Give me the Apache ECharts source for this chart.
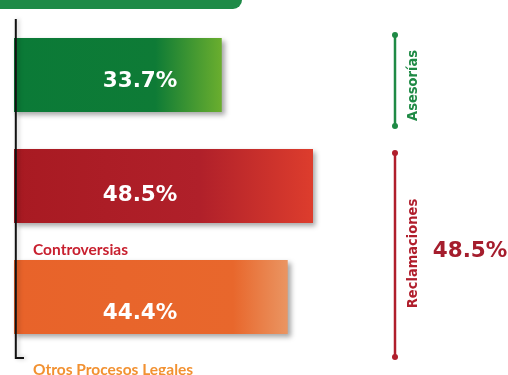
<!DOCTYPE html>
<html>
<head>
<meta charset="utf-8">
<script src="https://cdn.jsdelivr.net/npm/echarts@6/dist/echarts.min.js"></script>
<style>
  html, body { margin: 0; padding: 0; background: #ffffff; }
  #chart { width: 508px; height: 375px; }
</style>
</head>
<body>
<div id="chart"></div>
<script>
// Distribution of legal services (percent)
const categories = ['Asesorías', 'Controversias', 'Otros Procesos Legales'];
const values = [33.7, 48.5, 44.4];
const captions = [null, 'Controversias', 'Otros Procesos Legales'];
const groupNames = ['Asesorías', 'Reclamaciones'];
const groupValue = '48.5%';

// Styling per bar
const barColors = [
  { dark: '#0b7a37', mid: '#0e7b36', light: '#6aae2e', stop: 0.68 },
  { dark: '#a81a22', mid: '#b0202a', light: '#dd3d2d', stop: 0.62 },
  { dark: '#e8632a', mid: '#e8672c', light: '#ea9562', stop: 0.8 }
];
const captionColors = ['#1e8a47', '#c8202f', '#f29131'];
const labelDy = [43, 46, 53];
const captionDy = [0, 63.5, 72.5];

const chart = echarts.init(document.getElementById('chart'), null, { renderer: 'canvas' });

const barData = values.map((v, i) => ({
  value: v,
  itemStyle: {
    color: new echarts.graphic.LinearGradient(0, 0, 1, 0, [
      { offset: 0, color: barColors[i].dark },
      { offset: barColors[i].stop, color: barColors[i].mid },
      { offset: 1, color: barColors[i].light }
    ])
  },
  label: { position: [126, labelDy[i]] }
}));

chart.setOption({
  animation: false,
  grid: { left: 14, top: 19.5, width: 493.2, height: 333 },
  xAxis: {
    type: 'value', min: 0, max: 80,
    show: false
  },
  yAxis: {
    type: 'category', data: categories, inverse: true,
    axisLine: { show: false }, axisTick: { show: false }, axisLabel: { show: false }
  },
  series: [{
    type: 'bar',
    data: barData,
    barWidth: 74,
    itemStyle: {
      shadowColor: 'rgba(0,0,0,0.35)',
      shadowBlur: 5,
      shadowOffsetX: 3,
      shadowOffsetY: 3
    },
    label: {
      show: true,
      align: 'center',
      verticalAlign: 'middle',
      color: '#ffffff',
      fontFamily: 'DejaVu Sans',
      fontWeight: 'bold',
      fontSize: 21.5,
      formatter: p => p.value.toFixed(1) + '%'
    }
  }]
});

// Decorations placed from the category scale
const graphics = [];
// top banner
graphics.push({
  type: 'rect', shape: { x: -10, y: -20, width: 252, height: 29, r: [0, 0, 9, 0] },
  style: { fill: '#1e8a47' }, z: 10
});
// left axis with end tick
graphics.push({
  type: 'polyline', shape: { points: [[15.8, 19], [15.8, 358], [24, 358]] },
  style: { stroke: '#111111', lineWidth: 2, fill: null,
           shadowColor: 'rgba(0,0,0,0.25)', shadowBlur: 4, shadowOffsetX: 2 },
  z: 5
});
// captions under bars
captions.forEach((c, i) => {
  if (!c) return;
  const y = chart.convertToPixel({ yAxisIndex: 0 }, categories[i]);
  graphics.push({
    type: 'text', x: 33, y: y + captionDy[i],
    style: { text: c, fill: captionColors[i],
             fontFamily: 'Lato', fontWeight: 'bold', fontSize: 15.5,
             align: 'left', verticalAlign: 'middle' },
    z: 10
  });
});
// right brackets
const brackets = [
  { y0: 35, y1: 126, color: '#1f8a45', textY: 85.5 },
  { y0: 153, y1: 357, color: '#b01e2c', textY: 253.5 }
];
brackets.forEach((b, i) => {
  graphics.push({ type: 'line', shape: { x1: 395, y1: b.y0, x2: 395, y2: b.y1 },
                  style: { stroke: b.color, lineWidth: 2.5 }, z: 10 });
  graphics.push({ type: 'circle', shape: { cx: 395, cy: b.y0, r: 3 }, style: { fill: b.color }, z: 10 });
  graphics.push({ type: 'circle', shape: { cx: 395, cy: b.y1, r: 3 }, style: { fill: b.color }, z: 10 });
  graphics.push({
    type: 'text', x: 413.5, y: b.textY, rotation: Math.PI / 2,
    style: { text: groupNames[i], fill: b.color,
             fontFamily: '"DejaVu Sans Condensed", "DejaVu Sans"',
             fontWeight: 'bold', fontSize: 14.5,
             align: 'center', verticalAlign: 'middle' },
    z: 10
  });
});
graphics.push({
  type: 'text', x: 470, y: 251,
  style: { text: groupValue, fill: '#a51d2d',
           fontFamily: 'DejaVu Sans', fontWeight: 'bold', fontSize: 21.5,
           align: 'center', verticalAlign: 'middle' },
  z: 10
});

chart.setOption({ graphic: graphics });
</script>
</body>
</html>
